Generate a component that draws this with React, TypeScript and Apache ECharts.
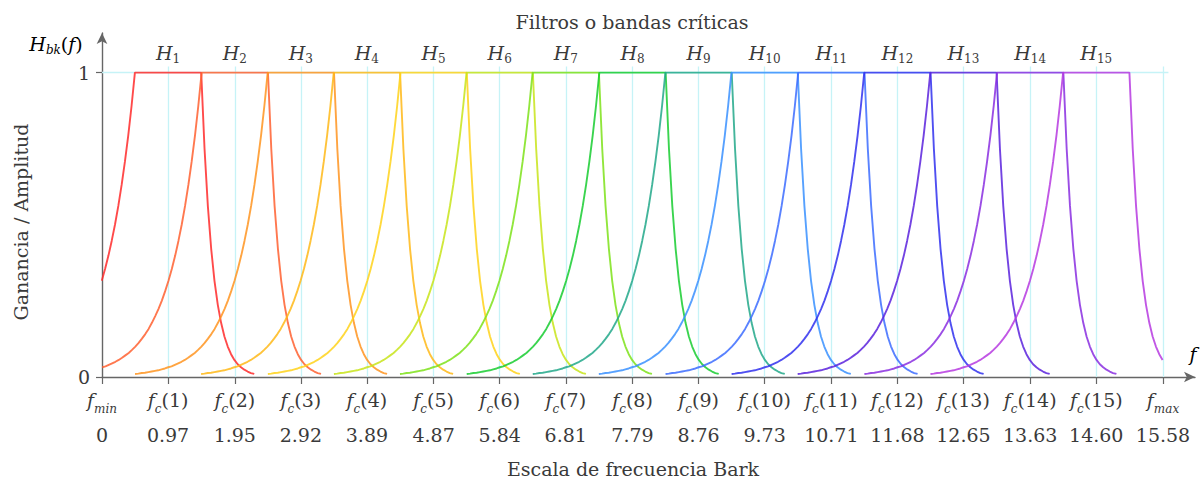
import React, { useEffect, useRef } from 'react';
import * as echarts from 'echarts';

// Bark scale ticks (f_min, f_c(1) ... f_c(15), f_max)
const barkTicks = [0, 0.97, 1.95, 2.92, 3.89, 4.87, 5.84, 6.81, 7.79, 8.76, 9.73, 10.71, 11.68, 12.65, 13.63, 14.6, 15.58];
const tickLabels = ['0', '0.97', '1.95', '2.92', '3.89', '4.87', '5.84', '6.81', '7.79', '8.76', '9.73', '10.71', '11.68', '12.65', '13.63', '14.60', '15.58'];
const yTicks = [0, 1];

// Filter colours H1..H15
const filterColors = [
  '#ff2a2a', '#ff6030', '#ff9420', '#ffb818', '#ffd21a', '#c8e41a', '#7ee21a', '#18cc30',
  '#22a88a', '#3a90ff', '#3c6cff', '#3030ee', '#5a22dd', '#8a2ee0', '#b63ae0',
];

// Shape of one critical-band filter (offset in bands from its centre, gain)
const riseOffsets = [-2.5, -2.45, -2.4, -2.35, -2.3, -2.25, -2.2, -2.15, -2.1, -2.05, -2.0, -1.95, -1.9, -1.85, -1.8, -1.75, -1.7, -1.65, -1.6, -1.55, -1.5, -1.45, -1.4, -1.35, -1.3, -1.25, -1.2, -1.15, -1.1, -1.05, -1.0, -0.95, -0.9, -0.85, -0.8, -0.75, -0.7, -0.65, -0.6, -0.55, -0.5];
const riseGains = [0.01, 0.011, 0.013, 0.014, 0.016, 0.018, 0.02, 0.022, 0.025, 0.028, 0.032, 0.035, 0.04, 0.045, 0.05, 0.056, 0.063, 0.071, 0.079, 0.089, 0.1, 0.112, 0.126, 0.141, 0.158, 0.178, 0.2, 0.224, 0.251, 0.282, 0.316, 0.355, 0.398, 0.447, 0.501, 0.562, 0.631, 0.708, 0.794, 0.891, 1];
const fallOffsets = [0.5, 0.55, 0.6, 0.65, 0.7, 0.75, 0.8, 0.85, 0.9, 0.95, 1.0, 1.05, 1.1, 1.15, 1.2, 1.25, 1.3];
const fallGains = [1, 0.75, 0.562, 0.422, 0.316, 0.237, 0.178, 0.133, 0.1, 0.075, 0.056, 0.042, 0.032, 0.024, 0.018, 0.013, 0.01];

const FONT = 'DejaVu Serif';
const TEXT = '#3a3a3a';
const AXIS = '#666666';
const GRIDC = '#c6f3f7';

export default function App() {
  const ref = useRef<HTMLDivElement>(null);

  useEffect(() => {
    document.body.style.margin = '0';
    const chart = echarts.init(ref.current as HTMLDivElement, null, { renderer: 'svg' });
    const fMax = barkTicks[barkTicks.length - 1];
    const step = fMax / (barkTicks.length - 1);
    const shapeOff = [...riseOffsets, ...fallOffsets];
    const shapeGain = [...riseGains, ...fallGains];

    const nearest = (v: number) => {
      let best = 0;
      for (let i = 0; i < barkTicks.length; i++) {
        if (Math.abs(barkTicks[i] - v) < Math.abs(barkTicks[best] - v)) best = i;
      }
      return best;
    };

    const filterSeries = filterColors.map((color, i) => {
      const center = barkTicks[i + 1];
      const data = shapeOff
        .map((o, k) => [center + o * step, shapeGain[k]])
        .filter((p) => p[0] >= -0.005 && p[0] <= fMax + 0.005);
      return {
        type: 'line',
        name: 'H' + (i + 1),
        data,
        symbol: 'none',
        showSymbol: false,
        silent: true,
        z: 10,
        clip: true,
        lineStyle: { color, width: 1.9, opacity: 0.85 },
        itemStyle: { color },
      };
    });

    const gridLines: any[] = barkTicks.slice(1).map((v) => [
      { coord: [v, 0] },
      { coord: [v, 1.02] },
    ]);
    gridLines.push([{ coord: [0, 1] }, { coord: [15.66, 1] }]);

    const subRich = {
      f: { fontFamily: FONT, fontStyle: 'italic', fontSize: 19, color: TEXT, lineHeight: 30 },
      s: { fontFamily: FONT, fontStyle: 'italic', fontSize: 12, color: TEXT, lineHeight: 16, verticalAlign: 'bottom' },
      n: { fontFamily: FONT, fontSize: 19, color: TEXT, lineHeight: 30 },
      v: { fontFamily: FONT, fontSize: 19, color: TEXT, lineHeight: 40 },
    };

    const hRich = {
      h: { fontFamily: FONT, fontStyle: 'italic', fontSize: 19, color: TEXT, lineHeight: 24 },
      s: { fontFamily: FONT, fontSize: 12, color: TEXT, lineHeight: 12, verticalAlign: 'bottom' },
      si: { fontFamily: FONT, fontStyle: 'italic', fontSize: 12, color: TEXT, lineHeight: 12, verticalAlign: 'bottom' },
      n: { fontFamily: FONT, fontSize: 19, color: TEXT, lineHeight: 24 },
    };

    chart.setOption({
      animation: false,
      backgroundColor: '#ffffff',
      grid: { left: 102, right: 5, top: 33, bottom: 105, containLabel: false },
      xAxis: [
        {
          type: 'value',
          min: 0,
          max: 16.05,
          axisLine: {
            show: true,
            onZero: false,
            symbol: ['none', 'arrow'],
            symbolSize: [8, 11],
            lineStyle: { color: AXIS, width: 1.4 },
          },
          axisTick: { show: true, customValues: barkTicks, length: 7, lineStyle: { color: AXIS, width: 1.2 } },
          axisLabel: {
            show: true,
            customValues: barkTicks,
            margin: 8,
            formatter: (v: number) => {
              const i = nearest(v);
              const top = i === 0 ? '{f|f}{s|min}' : i === barkTicks.length - 1 ? '{f|f}{s|max}' : `{f|f}{s|c}{n|(${i})}`;
              return top + '\n{v|' + tickLabels[i] + '}';
            },
            rich: subRich,
          },
          splitLine: { show: false },
        },
        {
          type: 'value',
          position: 'top',
          min: 0,
          max: 16.05,
          offset: -34,
          axisLine: { show: false },
          axisTick: { show: false },
          axisLabel: {
            show: true,
            customValues: barkTicks.slice(1, barkTicks.length - 1),
            margin: 2,
            formatter: (v: number) => `{h|H}{s|${nearest(v)}}`,
            rich: hRich,
          },
          splitLine: { show: false },
        },
      ],
      yAxis: {
        type: 'value',
        min: 0,
        max: 1.13,
        axisLine: {
          show: true,
          symbol: ['none', 'arrow'],
          symbolSize: [8, 11],
          lineStyle: { color: AXIS, width: 1.4 },
        },
        axisTick: { show: true, customValues: yTicks, length: 6, lineStyle: { color: AXIS, width: 1.2 } },
        axisLabel: {
          show: true,
          customValues: yTicks,
          margin: 12,
          fontFamily: FONT,
          fontSize: 19,
          color: TEXT,
          formatter: (v: number) => String(v),
        },
        splitLine: { show: false },
      },
      series: [
        {
          type: 'line',
          name: 'grid',
          data: [],
          z: 1,
          silent: true,
          markLine: {
            silent: true,
            z: 1,
            symbol: ['none', 'none'],
            label: { show: false },
            lineStyle: { color: GRIDC, width: 1.3, type: 'solid' },
            emphasis: { disabled: true },
            data: gridLines,
          },
        },
        ...filterSeries,
      ],
      graphic: [
        {
          type: 'text',
          x: 632,
          y: 22,
          style: { text: 'Filtros o bandas críticas', fontFamily: FONT, fontSize: 19, fill: TEXT, align: 'center', verticalAlign: 'middle' },
        },
        {
          type: 'text',
          x: 633,
          y: 469,
          style: { text: 'Escala de frecuencia Bark', fontFamily: FONT, fontSize: 19, fill: TEXT, align: 'center', verticalAlign: 'middle' },
        },
        {
          type: 'text',
          x: 21,
          y: 222,
          rotation: Math.PI / 2,
          style: { text: 'Ganancia / Amplitud', fontFamily: FONT, fontSize: 19, fill: TEXT, align: 'center', verticalAlign: 'middle' },
        },
        {
          type: 'text',
          x: 56,
          y: 44,
          style: {
            text: '{h|H}{si|bk}{n|(}{h|f}{n|)}',
            align: 'center',
            verticalAlign: 'middle',
            rich: hRich,
          },
        },
        {
          type: 'text',
          x: 1193,
          y: 354,
          style: {
            text: '{h|f}',
            align: 'center',
            verticalAlign: 'middle',
            rich: hRich,
          },
        },
      ],
    });

    return () => chart.dispose();
  }, []);

  return <div ref={ref} style={{ width: 1200, height: 482 }} />;
}
